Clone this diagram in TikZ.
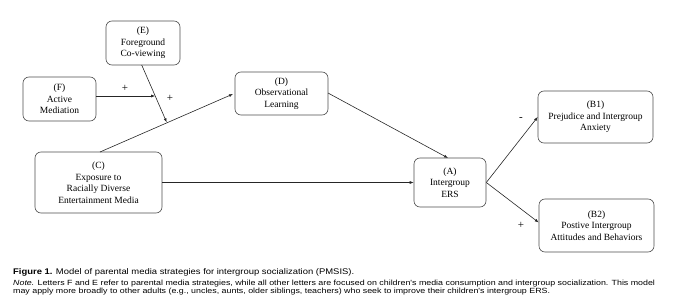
\documentclass[tikz,border=0pt]{standalone}
\usepackage{fontspec}
\setmainfont{Liberation Serif}
\newfontfamily\capfont[FakeStretch=1.15]{Liberation Sans}
\newfontfamily\notefont[FakeStretch=1.18]{Liberation Sans}
\usetikzlibrary{arrows.meta}
\begin{document}
\begin{tikzpicture}[x=1pt,y=-1pt,
  box/.style={draw=black!70, line width=0.6pt, rounded corners=6pt, align=center,
    inner sep=0pt, font=\fontsize{9.5}{11.5}\selectfont},
  conn/.style={draw=black!85, line width=0.6pt, -{Latex[length=4pt,width=3pt]}},
  sign/.style={font=\fontsize{11}{12}\selectfont, inner sep=0pt},
  captext/.style={anchor=base west, inner sep=0pt}]
\useasboundingbox (0,0) rectangle (680,305);
\node[box, minimum width=74pt, minimum height=44pt] (E) at (143,43) {(E)\\Foreground\\Co-viewing};
\node[box, minimum width=73pt, minimum height=44pt] (F) at (59.5,99) {(F)\\Active\\Mediation};
\node[box, minimum width=93pt, minimum height=43pt] (D) at (281.5,93.5) {(D)\\Observational\\Learning};
\node[box, minimum width=127pt, minimum height=61pt] (C) at (98.5,182.5) {(C)\\Exposure to\\Racially Diverse\\Entertainment Media};
\node[box, minimum width=72pt, minimum height=49pt] (A) at (450,182.5) {(A)\\Intergroup\\ERS};
\node[box, minimum width=115pt, minimum height=52pt] (B1) at (595.5,117) {(B1)\\Prejudice and Intergroup\\Anxiety};
\node[box, minimum width=115pt, minimum height=53pt] (B2) at (596.5,225.5) {(B2)\\Postive Intergroup\\Attitudes and Behaviors};
\coordinate (cTop) at (100,152);
\coordinate (dIn) at (233,94);
\coordinate (eBot) at (141.7,65);
\coordinate (mod) at (166.7,122.3);
\coordinate (fMid) at (155.2,96);
\coordinate (dOut) at (328,93);
\coordinate (aTop) at (448,158);
\draw[conn] (cTop) -- (dIn);
\draw[conn] (eBot) -- (mod);
\draw[conn] (F.east |- fMid) -- (fMid);
\draw[conn] (dOut) -- (aTop);
\draw[conn] (C.east |- A.west) -- (A.west);
\draw[conn] (A.east) -- (B1.west);
\draw[conn] (A.east) -- ([yshift=3pt]B2.west);
\node[sign] (s1) at (125,88) {+};
\node[sign] (s2) at (170,98) {+};
\node[sign] (s3) at (521,119) {-};
\node[sign] (s4) at (521,225) {+};
\node[captext, font=\capfont\fontsize{8.2}{9}\selectfont] (cap) at (13,274)
  {\textbf{Figure 1.} Model of parental media strategies for intergroup socialization (PMSIS).};
\node[captext, font=\notefont\fontsize{7.5}{8}\selectfont] (note1) at (13,285)
  {\textit{Note.} Letters F and E refer to parental media strategies, while all other letters are focused on children's media consumption and intergroup socialization. This model};
\node[captext, font=\notefont\fontsize{7.5}{8}\selectfont] (note2) at (13,293.5)
  {may apply more broadly to other adults (e.g., uncles, aunts, older siblings, teachers) who seek to improve their children's intergroup ERS.};
\end{tikzpicture}
\end{document}
